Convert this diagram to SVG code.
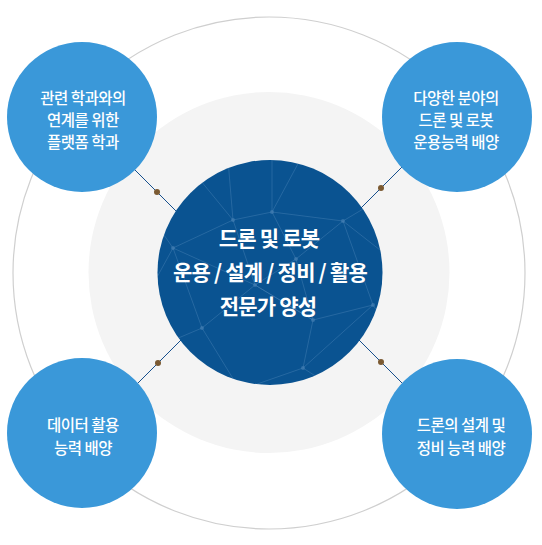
<svg xmlns="http://www.w3.org/2000/svg" width="542" height="545" viewBox="0 0 542 545">
<defs>
<style>
.ring{fill:none;stroke:#cfcfcf;stroke-width:1.2}
.halo{fill:#f4f4f4}
.core{fill:#0a5391}
.node{fill:#3a98d9}
.conn{stroke:#17508d;stroke-width:1;fill:none}
.dot{fill:#7b5a32}
.mesh{stroke:#4a82b6;stroke-width:1;fill:none;opacity:0.45}
.mdot{fill:#4a82b6;opacity:0.6}
.ct{font-family:"Noto Sans CJK KR","Noto Sans",sans-serif;font-weight:700;font-size:21px;fill:#ffffff;text-anchor:middle;letter-spacing:-0.8px}
.nt{font-family:"Noto Sans CJK KR","Noto Sans",sans-serif;font-weight:500;font-size:15.5px;fill:#ffffff;text-anchor:middle;letter-spacing:-0.5px}
</style>
<clipPath id="coreClip"><circle cx="270" cy="272.5" r="112.5"/></clipPath>
</defs>
<rect width="542" height="545" fill="#ffffff"/>
<circle class="ring" cx="269" cy="273" r="256"/>
<circle class="halo" cx="269" cy="272.5" r="180.5"/>
<g id="connectors">
<line class="conn" x1="120" y1="155" x2="200" y2="235"/>
<line class="conn" x1="420" y1="149" x2="340" y2="229"/>
<line class="conn" x1="120" y1="401" x2="200" y2="321"/>
<line class="conn" x1="420" y1="401" x2="340" y2="321"/>
<circle class="dot" cx="157" cy="192" r="3"/>
<circle class="dot" cx="381" cy="188" r="3"/>
<circle class="dot" cx="158" cy="363" r="3"/>
<circle class="dot" cx="381" cy="362" r="3"/>
</g>
<g id="center">
<circle class="core" cx="270" cy="272.5" r="112.5"/>
<g clip-path="url(#coreClip)">
<path class="mesh" d="M228,160 L233,220 L272,212 L300,160 M272,212 L343,221 L395,190 M233,220 L173,248 L150,215 M233,220 L255,285 L296,259 L343,221 L373,305 L313,320 L296,259 M272,212 L296,259 M173,248 L255,285 L202,328 L173,248 M255,285 L313,320 L303,368 L240,390 L202,328 M313,320 L255,285 M373,305 L390,330 M303,368 L373,305 M202,328 L150,350 M303,368 L345,395 M173,248 L150,290 M343,221 L380,250 M228,160 L196,175 L233,220 M272,212 L272,160"/>
<circle class="mdot" cx="272" cy="212" r="2"/>
<circle class="mdot" cx="233" cy="220" r="2"/>
<circle class="mdot" cx="343" cy="221" r="2"/>
<circle class="mdot" cx="173" cy="248" r="2"/>
<circle class="mdot" cx="296" cy="259" r="2"/>
<circle class="mdot" cx="255" cy="285" r="2"/>
<circle class="mdot" cx="202" cy="328" r="2"/>
<circle class="mdot" cx="313" cy="320" r="2"/>
<circle class="mdot" cx="303" cy="368" r="2"/>
<circle class="mdot" cx="373" cy="305" r="2"/>
</g>
<text class="ct" x="269" y="246">드론 및 로봇</text>
<text class="ct" x="270" y="280">운용 / 설계 / 정비 / 활용</text>
<text class="ct" x="268" y="314">전문가 양성</text>
</g>
<g id="node-tl">
<circle class="node" cx="82" cy="117" r="75"/>
<text class="nt" x="83" y="104">관련 학과와의</text>
<text class="nt" x="83" y="126">연계를 위한</text>
<text class="nt" x="83" y="148">플랫폼 학과</text>
</g>
<g id="node-tr">
<circle class="node" cx="457" cy="117" r="75"/>
<text class="nt" x="456" y="104">다양한 분야의</text>
<text class="nt" x="456" y="126">드론 및 로봇</text>
<text class="nt" x="456" y="148">운용능력 배양</text>
</g>
<g id="node-bl">
<circle class="node" cx="82" cy="433" r="75"/>
<text class="nt" x="83" y="431">데이터 활용</text>
<text class="nt" x="83" y="454">능력 배양</text>
</g>
<g id="node-br">
<circle class="node" cx="457" cy="434" r="75"/>
<text class="nt" x="461" y="431">드론의 설계 및</text>
<text class="nt" x="461" y="454">정비 능력 배양</text>
</g>
</svg>
